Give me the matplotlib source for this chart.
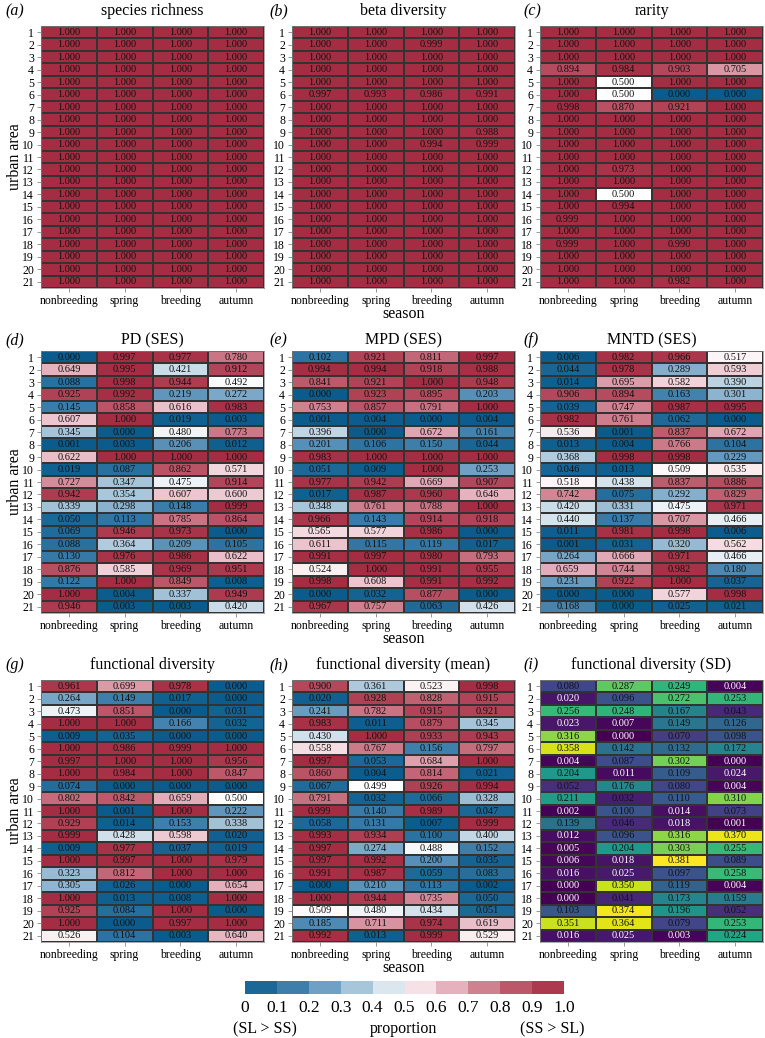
import numpy as np
import matplotlib
matplotlib.use("Agg")
import matplotlib.pyplot as plt
from matplotlib.colors import LinearSegmentedColormap, ListedColormap, BoundaryNorm
from matplotlib.cm import ScalarMappable

plt.rcParams['font.family'] = ['Liberation Serif', 'DejaVu Serif']

seasons = ['nonbreeding', 'spring', 'breeding', 'autumn']
areas = [str(i) for i in range(1, 22)]

# (a) species richness
richness = [[1.000, 1.000, 1.000, 1.000]] * 21

# (b) beta diversity
beta = [
    [1.000, 1.000, 1.000, 1.000], [1.000, 1.000, 0.999, 1.000], [1.000, 1.000, 1.000, 1.000],
    [1.000, 1.000, 1.000, 1.000], [1.000, 1.000, 1.000, 1.000], [0.997, 0.993, 0.986, 0.991],
    [1.000, 1.000, 1.000, 1.000], [1.000, 1.000, 1.000, 1.000], [1.000, 1.000, 1.000, 0.988],
    [1.000, 1.000, 0.994, 0.999], [1.000, 1.000, 1.000, 1.000], [1.000, 1.000, 1.000, 1.000],
    [1.000, 1.000, 1.000, 1.000], [1.000, 1.000, 1.000, 1.000], [1.000, 1.000, 1.000, 1.000],
    [1.000, 1.000, 1.000, 1.000], [1.000, 1.000, 1.000, 1.000], [1.000, 1.000, 1.000, 1.000],
    [1.000, 1.000, 1.000, 1.000], [1.000, 1.000, 1.000, 1.000], [1.000, 1.000, 1.000, 1.000],
]

# (c) rarity
rarity = [
    [1.000, 1.000, 1.000, 1.000], [1.000, 1.000, 1.000, 1.000], [1.000, 1.000, 1.000, 1.000],
    [0.894, 0.984, 0.903, 0.705], [1.000, 0.500, 1.000, 1.000], [1.000, 0.500, 0.000, 0.000],
    [0.998, 0.870, 0.921, 1.000], [1.000, 1.000, 1.000, 1.000], [1.000, 1.000, 1.000, 1.000],
    [1.000, 1.000, 1.000, 1.000], [1.000, 1.000, 1.000, 1.000], [1.000, 0.973, 1.000, 1.000],
    [1.000, 1.000, 1.000, 1.000], [1.000, 0.500, 1.000, 1.000], [1.000, 0.994, 1.000, 1.000],
    [0.999, 1.000, 1.000, 1.000], [1.000, 1.000, 1.000, 1.000], [0.999, 1.000, 0.990, 1.000],
    [1.000, 1.000, 1.000, 1.000], [1.000, 1.000, 1.000, 1.000], [1.000, 1.000, 0.982, 1.000],
]

# (d) PD (SES)
pd_ses = [
    [0.000, 0.997, 0.977, 0.780], [0.649, 0.995, 0.421, 0.912], [0.088, 0.998, 0.944, 0.492],
    [0.925, 0.992, 0.219, 0.272], [0.145, 0.858, 0.616, 0.983], [0.607, 1.000, 0.019, 0.003],
    [0.345, 0.000, 0.480, 0.773], [0.001, 0.003, 0.206, 0.012], [0.622, 1.000, 1.000, 1.000],
    [0.019, 0.087, 0.862, 0.571], [0.727, 0.347, 0.475, 0.914], [0.942, 0.354, 0.607, 0.600],
    [0.339, 0.298, 0.148, 0.999], [0.050, 0.113, 0.785, 0.864], [0.069, 0.946, 0.973, 0.000],
    [0.088, 0.364, 0.209, 0.105], [0.130, 0.976, 0.986, 0.622], [0.876, 0.585, 0.969, 0.951],
    [0.122, 1.000, 0.849, 0.008], [1.000, 0.004, 0.337, 0.949], [0.946, 0.003, 0.003, 0.420],
]

# (e) MPD (SES)
mpd_ses = [
    [0.102, 0.921, 0.811, 0.997], [0.994, 0.994, 0.918, 0.988], [0.841, 0.921, 1.000, 0.948],
    [0.000, 0.923, 0.895, 0.203], [0.753, 0.857, 0.791, 1.000], [0.001, 0.004, 0.000, 0.004],
    [0.396, 0.000, 0.672, 0.161], [0.201, 0.106, 0.150, 0.044], [0.983, 1.000, 1.000, 1.000],
    [0.051, 0.009, 1.000, 0.253], [0.977, 0.942, 0.669, 0.907], [0.017, 0.987, 0.960, 0.646],
    [0.348, 0.761, 0.788, 1.000], [0.966, 0.143, 0.914, 0.918], [0.565, 0.577, 0.986, 0.000],
    [0.611, 0.115, 0.119, 0.017], [0.991, 0.997, 0.980, 0.793], [0.524, 1.000, 0.991, 0.955],
    [0.998, 0.608, 0.991, 0.992], [0.000, 0.032, 0.877, 0.000], [0.967, 0.757, 0.063, 0.426],
]

# (f) MNTD (SES)
mntd_ses = [
    [0.006, 0.982, 0.966, 0.517], [0.044, 0.978, 0.289, 0.593], [0.014, 0.695, 0.582, 0.390],
    [0.906, 0.894, 0.163, 0.301], [0.039, 0.747, 0.987, 0.995], [0.982, 0.761, 0.062, 0.000],
    [0.536, 0.001, 0.837, 0.672], [0.013, 0.004, 0.766, 0.104], [0.368, 0.998, 0.998, 0.229],
    [0.046, 0.013, 0.509, 0.535], [0.518, 0.438, 0.837, 0.886], [0.742, 0.075, 0.292, 0.829],
    [0.420, 0.331, 0.475, 0.971], [0.440, 0.137, 0.707, 0.466], [0.011, 0.981, 0.998, 0.006],
    [0.001, 0.031, 0.320, 0.562], [0.264, 0.666, 0.971, 0.466], [0.659, 0.744, 0.982, 0.180],
    [0.231, 0.922, 1.000, 0.037], [0.000, 0.000, 0.577, 0.998], [0.168, 0.000, 0.025, 0.021],
]

# (g) functional diversity
fd = [
    [0.961, 0.699, 0.978, 0.000], [0.264, 0.149, 0.017, 0.000], [0.473, 0.851, 0.000, 0.031],
    [1.000, 1.000, 0.166, 0.032], [0.009, 0.035, 0.000, 0.000], [1.000, 0.986, 0.999, 1.000],
    [0.997, 1.000, 1.000, 0.956], [1.000, 0.984, 1.000, 0.847], [0.074, 0.000, 0.000, 0.000],
    [0.802, 0.842, 0.659, 0.500], [1.000, 0.001, 1.000, 0.222], [0.929, 0.014, 0.153, 0.338],
    [0.999, 0.428, 0.598, 0.020], [0.009, 0.977, 0.037, 0.019], [1.000, 0.997, 1.000, 0.979],
    [0.323, 0.812, 1.000, 1.000], [0.305, 0.026, 0.000, 0.654], [1.000, 0.013, 0.008, 1.000],
    [0.925, 0.084, 1.000, 0.000], [1.000, 0.000, 0.997, 1.000], [0.526, 0.104, 0.003, 0.640],
]

# (h) functional diversity (mean)
fd_mean = [
    [0.900, 0.361, 0.523, 0.998], [0.020, 0.928, 0.828, 0.915], [0.241, 0.782, 0.915, 0.921],
    [0.983, 0.011, 0.879, 0.345], [0.430, 1.000, 0.933, 0.943], [0.558, 0.767, 0.156, 0.797],
    [0.997, 0.053, 0.684, 1.000], [0.860, 0.004, 0.814, 0.021], [0.067, 0.499, 0.926, 0.994],
    [0.791, 0.032, 0.066, 0.328], [0.999, 0.140, 0.989, 0.047], [0.058, 0.131, 0.007, 0.999],
    [0.993, 0.934, 0.100, 0.400], [0.997, 0.274, 0.488, 0.152], [0.997, 0.992, 0.200, 0.035],
    [0.991, 0.987, 0.059, 0.083], [0.000, 0.210, 0.113, 0.002], [1.000, 0.944, 0.735, 0.050],
    [0.509, 0.480, 0.434, 0.051], [0.185, 0.711, 0.974, 0.619], [0.992, 0.013, 0.999, 0.529],
]

# (i) functional diversity (SD)
fd_sd = [
    [0.080, 0.287, 0.249, 0.004], [0.020, 0.096, 0.272, 0.253], [0.256, 0.248, 0.167, 0.043],
    [0.023, 0.007, 0.149, 0.126], [0.316, 0.000, 0.070, 0.098], [0.358, 0.142, 0.132, 0.172],
    [0.004, 0.087, 0.302, 0.000], [0.204, 0.011, 0.109, 0.024], [0.052, 0.176, 0.080, 0.004],
    [0.211, 0.032, 0.110, 0.310], [0.002, 0.100, 0.014, 0.073], [0.139, 0.046, 0.018, 0.001],
    [0.012, 0.096, 0.316, 0.370], [0.005, 0.204, 0.303, 0.255], [0.006, 0.018, 0.381, 0.089],
    [0.016, 0.025, 0.097, 0.258], [0.000, 0.350, 0.119, 0.004], [0.000, 0.041, 0.173, 0.159],
    [0.103, 0.374, 0.196, 0.052], [0.351, 0.364, 0.079, 0.253], [0.016, 0.025, 0.003, 0.224],
]

panels = [
    ('(a)', 'species richness', richness),
    ('(b)', 'beta diversity', beta),
    ('(c)', 'rarity', rarity),
    ('(d)', 'PD (SES)', pd_ses),
    ('(e)', 'MPD (SES)', mpd_ses),
    ('(f)', 'MNTD (SES)', mntd_ses),
    ('(g)', 'functional diversity', fd),
    ('(h)', 'functional diversity (mean)', fd_mean),
    ('(i)', 'functional diversity (SD)', fd_sd),
]

# blue -> white -> red scale
anchors = [0.0, 0.15, 0.25, 0.35, 0.45, 0.5, 0.55, 0.65, 0.75, 0.85, 1.0]
anchor_cols = ['#0b5c8d', '#3d7eab', '#6fa0c3', '#a8c6da', '#dbe6ef', '#ffffff',
               '#f6e1e6', '#e4b1bd', '#d08291', '#bb5769', '#a52d43']
bluered = LinearSegmentedColormap.from_list('bluered', list(zip(anchors, anchor_cols)))

W, H = 765, 1038
fig = plt.figure(figsize=(W / 100, H / 100), dpi=100)

col_left = [41, 292, 540]
row_top = [26, 351, 680]
pw, ph = 223, 262
label_x = [5, 269, 523]
title_y = [11, 340, 665]

for k, (tag, title, vals) in enumerate(panels):
    r, c = divmod(k, 3)
    data = np.array(vals)
    x0, y0 = col_left[c], row_top[r]
    ax = fig.add_axes([x0 / W, 1 - (y0 + ph) / H, pw / W, ph / H])

    if k == 8:
        cmap, vmax = plt.get_cmap('viridis'), data.max()
    else:
        cmap, vmax = bluered, 1.0
    ax.pcolormesh(np.arange(5), np.arange(22), data, cmap=cmap, vmin=0, vmax=vmax,
                  edgecolors='#333333', linewidth=0.35)
    ax.set_xlim(0, 4)
    ax.set_ylim(21, 0)

    for i in range(21):
        for j in range(4):
            v = data[i, j]
            tc = 'white' if (k == 8 and v < 0.03) else '#111111'
            ax.text(j + 0.5, i + 0.5, f'{v:.3f}', ha='center', va='center',
                    fontsize=7.5, color=tc)

    ax.set_xticks(np.arange(4) + 0.5)
    ax.set_xticklabels(seasons, fontsize=8.5)
    ax.set_yticks(np.arange(21) + 0.5)
    ax.set_yticklabels(areas, fontsize=8.5)
    ax.tick_params(length=3, width=0.6, color='#888888', pad=2)
    for s in ax.spines.values():
        s.set_linewidth(0.5)
        s.set_color('#888888')

    if c == 0:
        fig.text(15 / W, 1 - (y0 + ph / 2) / H, 'urban area', rotation=90,
                 ha='center', va='center', fontsize=11.5)
    if c == 1:
        fig.text((x0 + pw / 2) / W, 1 - (y0 + ph + 26) / H, 'season',
                 ha='center', va='center', fontsize=11.5)

    fig.text((x0 + pw / 2) / W, 1 - title_y[r] / H, title,
             ha='center', va='center', fontsize=11.5)
    fig.text(label_x[c] / W, 1 - title_y[r] / H, tag, ha='left', va='center',
             fontsize=11.5, style='italic')

# discrete colour bar
bounds = np.linspace(0, 1, 11)
bar_cols = [bluered(b + 0.05) for b in bounds[:-1]]
cax = fig.add_axes([245 / W, 1 - 994 / H, 319 / W, 13 / H])
sm = ScalarMappable(norm=BoundaryNorm(bounds, 10), cmap=ListedColormap(bar_cols))
cb = fig.colorbar(sm, cax=cax, orientation='horizontal', ticks=bounds)
cb.ax.set_xticklabels(['0'] + [f'{b:.1f}' for b in bounds[1:]], fontsize=12.5)
cb.ax.tick_params(length=0, pad=4)
cb.outline.set_visible(False)

fig.text(265 / W, 1 - 1029 / H, '(SL > SS)', ha='center', va='center', fontsize=11.5)
fig.text(403 / W, 1 - 1029 / H, 'proportion', ha='center', va='center', fontsize=11.5)
fig.text(552 / W, 1 - 1029 / H, '(SS > SL)', ha='center', va='center', fontsize=11.5)

fig.savefig('out.png', dpi=100)
